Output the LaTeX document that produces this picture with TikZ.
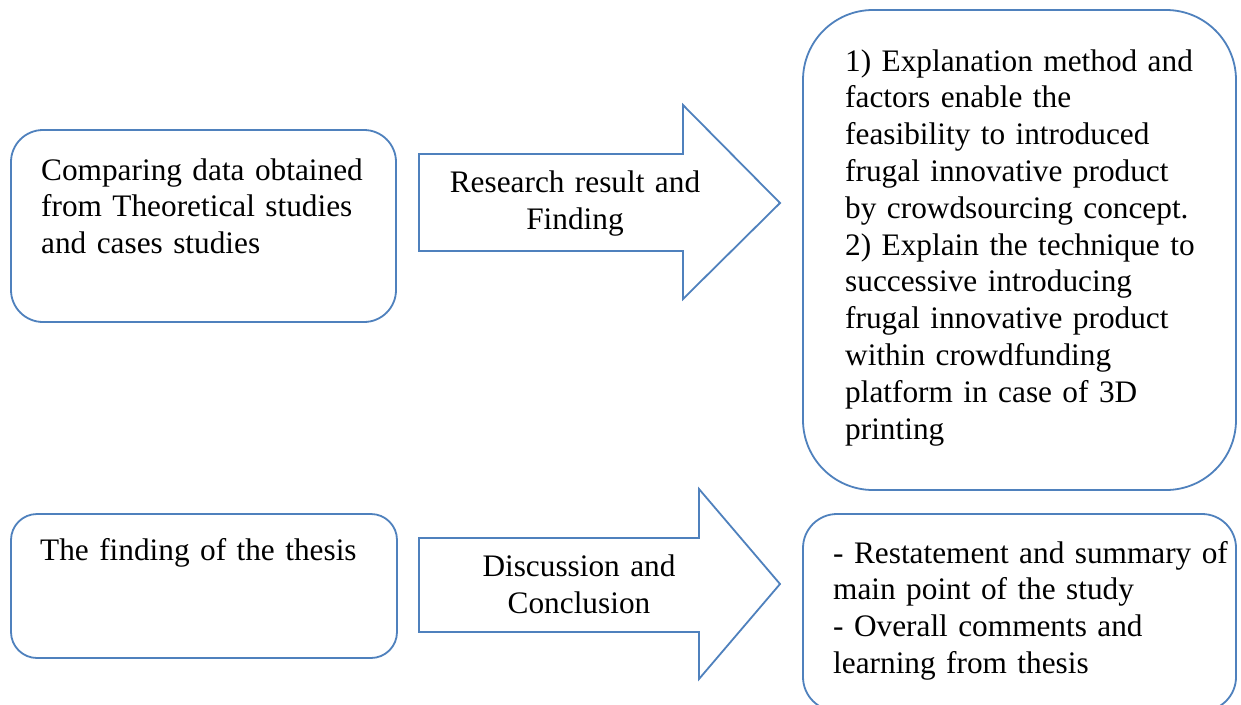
\documentclass[tikz,border=0pt]{standalone}
\usepackage{fontspec}
\setmainfont{Liberation Serif}
\definecolor{shapeblue}{RGB}{79,129,189}
\begin{document}
\begin{tikzpicture}[x=1pt,y=-1pt,
  outline/.style={draw=shapeblue, line width=1.8pt, fill=white, line join=miter},
  roundbox/.style={outline, rectangle, inner sep=0pt},
  bodytext/.style={inner sep=0pt, font=\fontsize{31.3}{36.8}\selectfont,
    text width=#1, align=left, anchor=base west},
  arrowtext/.style={inner sep=0pt, font=\fontsize{31.3}{37.3}\selectfont,
    text width=#1, align=center, anchor=base}]
\clip (0,0) rectangle (1241,704);
\fill[white] (0,0) rectangle (1241,704);

% rounded text boxes
\node[roundbox, rounded corners=32pt, minimum width=385pt, minimum height=192pt]
  (compare) at (203.5,226) {};
\node[roundbox, rounded corners=70pt, minimum width=433pt, minimum height=480pt]
  (results) at (1019.5,250) {};
\node[roundbox, rounded corners=26pt, minimum width=386pt, minimum height=144pt]
  (finding) at (204,586) {};
\node[roundbox, rounded corners=34pt, minimum width=433pt, minimum height=197pt]
  (summary) at (1019.5,612.5) {};

% block arrows
\draw[outline] (419,154) -- (683,154) -- (683,105) -- (780,203)
  -- (683,299) -- (683,251) -- (419,251) -- cycle;
\draw[outline] (419,538) -- (699,538) -- (699,489) -- (780,584)
  -- (699,679) -- (699,632) -- (419,632) -- cycle;

% texts
\node[bodytext=360pt] (compareText) at (41,180)
  {Comparing data obtained\\from Theoretical studies\\and cases studies};
\node[arrowtext=300pt] (researchText) at (575,192)
  {Research result and\\Finding};
\node[bodytext=390pt] (resultsText) at (845,71)
  {1) Explanation method and\\factors enable the\\feasibility to introduced\\
   frugal innovative product\\by crowdsourcing concept.\\
   2) Explain the technique to\\successive introducing\\
   frugal innovative product\\within crowdfunding\\
   platform in case of 3D\\printing};
\node[bodytext=360pt] (findingText) at (40,560) {The finding of the thesis};
\node[arrowtext=300pt] (discussText) at (579,576)
  {Discussion and\\Conclusion};
\node[bodytext=405pt] (summaryText) at (833,563)
  {- Restatement and summary of\\main point of the study\\
   - Overall comments and\\learning from thesis};
\end{tikzpicture}
\end{document}
